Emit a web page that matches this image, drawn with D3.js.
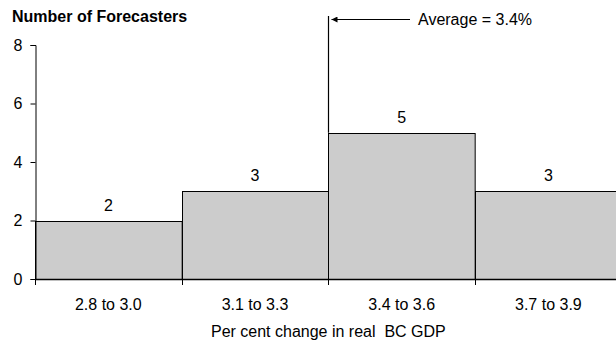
<!DOCTYPE html>
<html>
<head>
<meta charset="utf-8">
<script src="https://cdn.jsdelivr.net/npm/d3@7"></script>
<style>
  body { margin: 0; background: #fff; }
  text { font-family: "Liberation Sans", Arial, sans-serif; fill: #000; }
</style>
</head>
<body>
<div id="chart"></div>
<script>
// data
const bins = ["2.8 to 3.0", "3.1 to 3.3", "3.4 to 3.6", "3.7 to 3.9"];
const counts = [2, 3, 5, 3];
const yTicks = [0, 2, 4, 6, 8];
const averageBin = "3.4 to 3.6";
const averageLabel = "Average = 3.4%";

const W = 616, H = 343;
const margin = {top: 45, left: 35, bottom: 64};
const plotRight = 621.7;

const svg = d3.select("#chart")
    .append("svg")
    .attr("width", W)
    .attr("height", H);

const x = d3.scaleBand()
    .domain(bins)
    .range([margin.left, plotRight])
    .padding(0);

const y = d3.scaleLinear()
    .domain([0, 8])
    .range([H - margin.bottom, margin.top]);

// bars
svg.selectAll("rect.bar")
    .data(counts)
    .enter()
    .append("rect")
    .attr("class", "bar")
    .attr("x", (d, i) => Math.round(x(bins[i])) + 0.5)
    .attr("y", d => Math.round(y(d)) + 0.5)
    .attr("width", x.bandwidth())
    .attr("height", d => y(0) - Math.round(y(d)))
    .attr("fill", "#cccccc")
    .attr("stroke", "#000")
    .attr("stroke-width", 1);

// value labels
svg.selectAll("text.val")
    .data(counts)
    .enter()
    .append("text")
    .attr("class", "val")
    .attr("x", (d, i) => x(bins[i]) + x.bandwidth() / 2)
    .attr("y", d => y(d) - 10)
    .attr("text-anchor", "middle")
    .style("font-size", "16px")
    .text(d => d);

// y axis
const yAxis = svg.append("g")
    .attr("transform", `translate(${margin.left + 0.5},0)`)
    .call(d3.axisLeft(y).tickValues(yTicks).tickSizeOuter(0).tickSize(5).tickPadding(8));
yAxis.selectAll("text")
    .style("font-size", "16px")
    .style("font-family", "'Liberation Sans', Arial, sans-serif");
yAxis.selectAll("line, path").attr("stroke", "#000");

// x axis: baseline, bin-edge ticks, centred labels
const edges = bins.map(b => x(b)).concat([x(bins[bins.length - 1]) + x.bandwidth()]);
svg.append("line")
    .attr("x1", margin.left)
    .attr("x2", W)
    .attr("y1", y(0) + 0.5)
    .attr("y2", y(0) + 0.5)
    .attr("stroke", "#000")
    .attr("stroke-width", 1.6);
svg.selectAll("line.edge")
    .data(edges)
    .enter()
    .append("line")
    .attr("class", "edge")
    .attr("x1", d => Math.round(d) + 0.5)
    .attr("x2", d => Math.round(d) + 0.5)
    .attr("y1", y(0))
    .attr("y2", y(0) + 6)
    .attr("stroke", "#000");
svg.selectAll("text.xlab")
    .data(bins)
    .enter()
    .append("text")
    .attr("class", "xlab")
    .attr("x", d => x(d) + x.bandwidth() / 2)
    .attr("y", y(0) + 31)
    .attr("text-anchor", "middle")
    .style("font-size", "16px")
    .text(d => d);

// axis titles
svg.append("text")
    .attr("x", (margin.left + plotRight) / 2)
    .attr("y", 337)
    .attr("text-anchor", "middle")
    .style("font-size", "16px")
    .style("white-space", "pre")
    .text("Per cent change in real\u00a0 BC GDP");

svg.append("text")
    .attr("x", 12)
    .attr("y", 21.5)
    .style("font-size", "16px")
    .style("font-weight", "bold")
    .text("Number of Forecasters");

// average marker
const avgX = Math.round(x(averageBin)) + 0.5;
svg.append("defs").append("marker")
    .attr("id", "arrow")
    .attr("viewBox", "0 0 10 10")
    .attr("refX", 10)
    .attr("refY", 5)
    .attr("markerWidth", 8)
    .attr("markerHeight", 6)
    .attr("markerUnits", "userSpaceOnUse")
    .attr("orient", "auto")
    .append("path")
    .attr("d", "M0,0 L10,5 L0,10 Z")
    .attr("fill", "#000");

svg.append("line")
    .attr("x1", avgX)
    .attr("x2", avgX)
    .attr("y1", 16)
    .attr("y2", y(counts[bins.indexOf(averageBin)]))
    .attr("stroke", "#000")
    .attr("stroke-width", 1.2);

svg.append("line")
    .attr("x1", 410)
    .attr("x2", avgX + 3)
    .attr("y1", 19.5)
    .attr("y2", 19.5)
    .attr("stroke", "#000")
    .attr("stroke-width", 1.2)
    .attr("marker-end", "url(#arrow)");

svg.append("text")
    .attr("x", 418)
    .attr("y", 25)
    .style("font-size", "16px")
    .text(averageLabel);
</script>
</body>
</html>
